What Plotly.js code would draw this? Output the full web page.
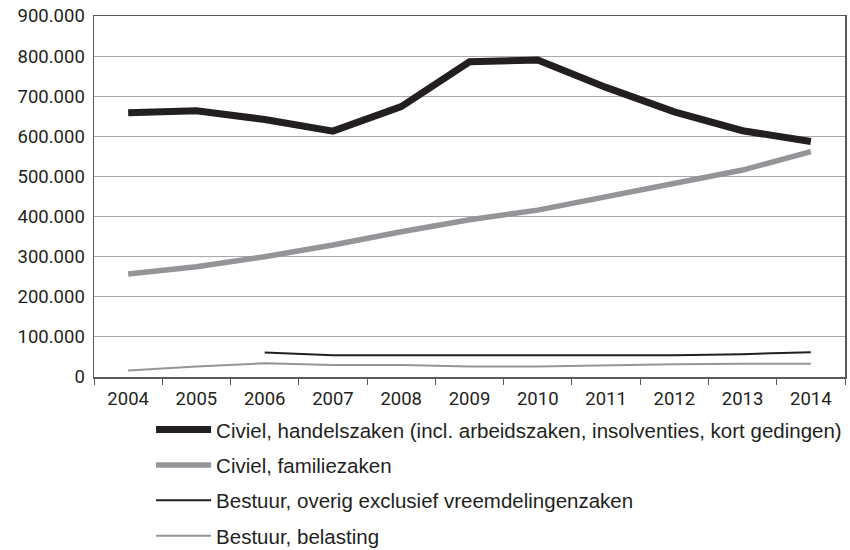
<!DOCTYPE html>
<html>
<head>
<meta charset="utf-8">
<script src="https://cdn.plot.ly/plotly-3.0.1.min.js"></script>
<style>
  body { margin: 0; background: #fff; }
  #chart { width: 850px; height: 550px; }
</style>
</head>
<body>
<div id="chart"></div>
<script>
// jaren en aantallen zaken
const years = ['2004', '2005', '2006', '2007', '2008', '2009', '2010', '2011', '2012', '2013', '2014'];
const handelszaken = [659000, 664000, 642000, 613000, 674000, 786000, 790000, 722000, 661000, 614000, 587000];
const familiezaken = [257000, 275000, 300000, 329000, 362000, 392000, 416000, 450000, 484000, 516000, 562000];
const bestuurOverig = [null, null, 61000, 54000, 54000, 54000, 54000, 54000, 54000, 57000, 62000];
const belasting = [16000, 26000, 34000, 30000, 30000, 26000, 26000, 29000, 32000, 33000, 33000];

const names = [
  'Civiel, handelszaken (incl. arbeidszaken, insolventies, kort gedingen)',
  'Civiel, familiezaken',
  'Bestuur, overig exclusief vreemdelingenzaken',
  'Bestuur, belasting'
];

const tickFont = 'Roboto, "Liberation Sans", sans-serif';
const legendFont = '"Liberation Sans", Arial, sans-serif';

const mkTrace = (y, name, color, width, group) => ({
  x: years,
  y: y,
  name: name,
  legendgroup: group,
  type: 'scatter',
  mode: 'lines',
  connectgaps: false,
  line: {color: color, width: width},
  hoverinfo: 'x+y'
});

const traces = [
  mkTrace(handelszaken, names[0], '#231f20', 7, 'a'),
  mkTrace(familiezaken, names[1], '#939598', 5.5, 'b'),
  mkTrace(bestuurOverig, names[2], '#231f20', 2, 'c'),
  mkTrace(belasting, names[3], '#939598', 2, 'd')
];

const layout = {
  width: 850,
  height: 550,
  margin: {l: 94, r: 5, t: 16, b: 173},
  separators: ',.',
  paper_bgcolor: '#fff',
  plot_bgcolor: '#fff',
  font: {family: tickFont, size: 18, color: '#231f20'},
  showlegend: true,
  legend: {
    orientation: 'v',
    xref: 'paper',
    yref: 'container',
    x: 0.076,
    xanchor: 'left',
    y: 0.255,
    yanchor: 'top',
    itemwidth: 55,
    font: {family: legendFont, size: 20.5, color: '#231f20'},
    tracegroupgap: 5.7,
    bgcolor: 'rgba(0,0,0,0)'
  },
  xaxis: {
    type: 'category',
    range: [-0.5, 10.5],
    showline: true,
    linecolor: '#58595b',
    linewidth: 1.5,
    mirror: true,
    ticks: 'outside',
    tickson: 'boundaries',
    ticklen: 6,
    tickcolor: '#58595b',
    showgrid: false,
    zeroline: false,
    ticklabelstandoff: 4,
    tickfont: {family: tickFont, size: 18.5, color: '#231f20'}
  },
  yaxis: {
    range: [0, 900000],
    dtick: 100000,
    tickformat: ',d',
    showline: true,
    linecolor: '#58595b',
    linewidth: 1.5,
    mirror: true,
    ticks: '',
    gridcolor: '#a7a9ac',
    gridwidth: 1,
    zeroline: false,
    ticklabelstandoff: 4,
    tickfont: {family: tickFont, size: 18.5, color: '#231f20'}
  }
};

Plotly.newPlot('chart', traces, layout, {displayModeBar: false, staticPlot: true});
</script>
</body>
</html>
